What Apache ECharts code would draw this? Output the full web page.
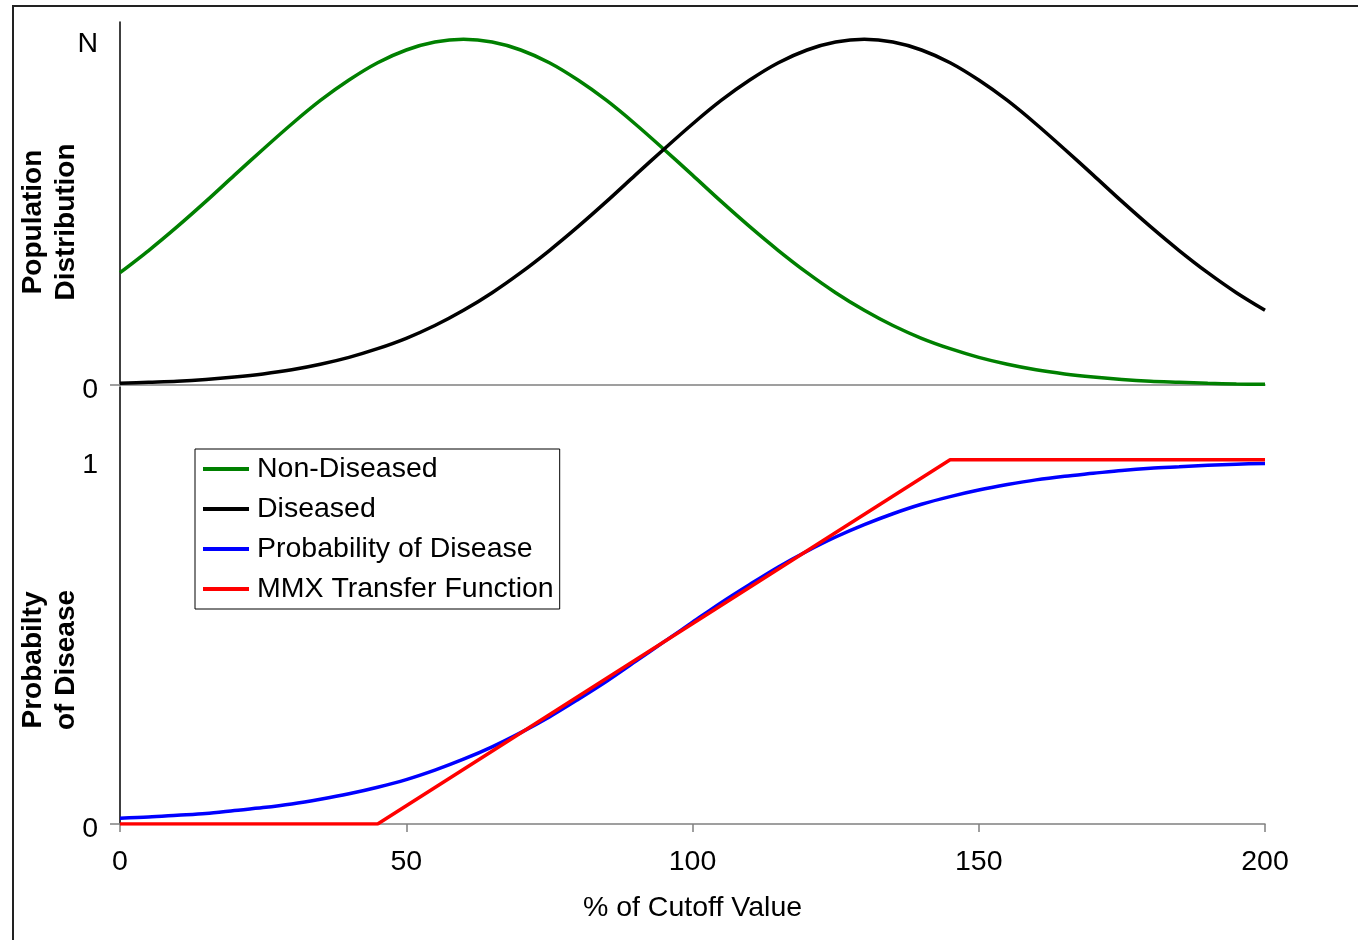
<!DOCTYPE html>
<html>
<head>
<meta charset="utf-8">
<script src="https://cdn.jsdelivr.net/npm/echarts@6/dist/echarts.min.js"></script>
<style>
  html, body { margin: 0; padding: 0; background: #fff; }
  #main { width: 1358px; height: 940px; }
</style>
</head>
<body>
<div id="main"></div>
<script>
// x positions (% of cutoff value)
var xs = [0, 5, 10, 15, 20, 25, 30, 35, 40, 45, 50, 55, 60, 65, 70, 75, 80, 85, 90, 95, 100,
          105, 110, 115, 120, 125, 130, 135, 140, 145, 150, 155, 160, 165, 170, 175, 180, 185, 190, 195, 200];

// population distributions, as fraction of N
var nonDiseased = [0.325, 0.389, 0.458, 0.531, 0.607, 0.682, 0.755, 0.823, 0.882, 0.932, 0.969,
                   0.992, 1, 0.992, 0.969, 0.932, 0.882, 0.823, 0.755, 0.682, 0.607,
                   0.531, 0.458, 0.389, 0.325, 0.267, 0.216, 0.172, 0.135, 0.105, 0.080,
                   0.060, 0.044, 0.032, 0.023, 0.016, 0.011, 0.008, 0.005, 0.003, 0.002];
var diseased = [0.005, 0.008, 0.011, 0.016, 0.023, 0.032, 0.044, 0.060, 0.080, 0.105, 0.135,
                0.172, 0.216, 0.267, 0.325, 0.389, 0.458, 0.531, 0.607, 0.682, 0.755,
                0.823, 0.882, 0.932, 0.969, 0.992, 1, 0.992, 0.969, 0.932, 0.882,
                0.823, 0.755, 0.682, 0.607, 0.531, 0.458, 0.389, 0.325, 0.267, 0.216];

// probability of disease
var probability = [0.016, 0.019, 0.024, 0.029, 0.037, 0.045, 0.055, 0.068, 0.083, 0.101, 0.122,
                   0.148, 0.178, 0.212, 0.251, 0.294, 0.342, 0.392, 0.446, 0.5, 0.554,
                   0.608, 0.658, 0.706, 0.749, 0.788, 0.822, 0.852, 0.878, 0.899, 0.917,
                   0.932, 0.945, 0.955, 0.963, 0.971, 0.977, 0.981, 0.985, 0.988, 0.990];

// MMX transfer function breakpoints
var mmxX = [0, 45, 145, 200];
var mmxY = [0, 0, 1, 1];

function pairs(x, y) {
    return x.map(function (v, i) { return [v, y[i]]; });
}

var FONT = '"Liberation Sans", Arial, sans-serif';
var myChart = echarts.init(document.getElementById('main'));

// y labels sit a few px below their tick, like the original
var yLabelRich = { s: { fontSize: 28.5, color: '#000', fontFamily: FONT, padding: [10, 0, 0, 0] } };

var option = {
    backgroundColor: '#fff',
    animation: false,
    textStyle: { fontFamily: FONT },
    graphic: [
        {
            type: 'rect',
            shape: { x: 13, y: 6, width: 1400, height: 1000 },
            style: { fill: 'none', stroke: '#222', lineWidth: 2 }
        },
        {
            type: 'text', x: 50, y: 222, rotation: Math.PI / 2,
            style: {
                text: 'Population\nDistribution', font: 'bold 28px ' + FONT,
                fill: '#000', align: 'center', verticalAlign: 'middle', lineHeight: 33
            }
        },
        {
            type: 'text', x: 50, y: 660, rotation: Math.PI / 2,
            style: {
                text: 'Probabilty\nof Disease', font: 'bold 28px ' + FONT,
                fill: '#000', align: 'center', verticalAlign: 'middle', lineHeight: 33
            }
        }
    ],
    legend: {
        orient: 'vertical',
        left: 195,
        top: 449,
        padding: [5, 6, 5, 8],
        itemGap: 10,
        itemWidth: 46,
        itemHeight: 4,
        icon: 'rect',
        borderColor: '#000',
        borderWidth: 1,
        backgroundColor: '#fff',
        textStyle: { fontSize: 28.5, color: '#000', fontFamily: FONT, lineHeight: 30, padding: [0, 0, 0, 3] },
        data: ['Non-Diseased', 'Diseased', 'Probability of Disease', 'MMX Transfer Function']
    },
    grid: [
        { left: 120, right: 93, top: 22, height: 363 },
        { left: 120, right: 93, top: 387, height: 437 }
    ],
    xAxis: [
        {
            gridIndex: 0, type: 'value', min: 0, max: 200, interval: 50,
            axisLine: { lineStyle: { color: '#808080', width: 1.5 } },
            axisTick: { show: false },
            axisLabel: { show: false },
            splitLine: { show: false }
        },
        {
            gridIndex: 1, type: 'value', min: 0, max: 200, interval: 50,
            name: '% of Cutoff Value',
            nameLocation: 'middle',
            nameGap: 70,
            nameTextStyle: { fontSize: 28.5, color: '#000', fontFamily: FONT },
            axisLine: { lineStyle: { color: '#808080', width: 1.5 } },
            axisTick: { show: true, length: 8, lineStyle: { color: '#808080', width: 1.5 } },
            axisLabel: { fontSize: 28.5, color: '#000', margin: 24, fontFamily: FONT },
            splitLine: { show: false }
        }
    ],
    yAxis: [
        {
            gridIndex: 0, type: 'value', min: 0, max: 1.05, interval: 1,
            axisLine: { show: true, onZero: false, lineStyle: { color: '#000', width: 1.5 } },
            axisTick: { show: true, length: 10, customValues: [0], lineStyle: { color: '#808080', width: 1.5 } },
            axisLabel: {
                margin: 22, customValues: [0, 1], rich: yLabelRich,
                formatter: function (v) { return v === 0 ? '{s|0}' : (v === 1 ? '{s|N}' : ''); }
            },
            splitLine: { show: false }
        },
        {
            gridIndex: 1, type: 'value', min: 0, max: 1.2, interval: 1,
            axisLine: { show: true, onZero: false, lineStyle: { color: '#000', width: 1.5 } },
            axisTick: { show: true, length: 10, customValues: [0], lineStyle: { color: '#808080', width: 1.5 } },
            axisLabel: {
                margin: 22, customValues: [0, 1], rich: yLabelRich,
                formatter: function (v) { return v === 0 ? '{s|0}' : (v === 1 ? '{s|1}' : ''); }
            },
            splitLine: { show: false }
        }
    ],
    series: [
        {
            name: 'Non-Diseased', type: 'line', xAxisIndex: 0, yAxisIndex: 0,
            data: pairs(xs, nonDiseased), smooth: 0.3, showSymbol: false,
            itemStyle: { color: '#008000' }, lineStyle: { color: '#008000', width: 3.5 }
        },
        {
            name: 'Diseased', type: 'line', xAxisIndex: 0, yAxisIndex: 0,
            data: pairs(xs, diseased), smooth: 0.3, showSymbol: false,
            itemStyle: { color: '#000' }, lineStyle: { color: '#000', width: 3.5 }
        },
        {
            name: 'Probability of Disease', type: 'line', xAxisIndex: 1, yAxisIndex: 1,
            data: pairs(xs, probability), smooth: 0.3, showSymbol: false,
            itemStyle: { color: '#0000ff' }, lineStyle: { color: '#0000ff', width: 3.5 }
        },
        {
            name: 'MMX Transfer Function', type: 'line', xAxisIndex: 1, yAxisIndex: 1,
            data: pairs(mmxX, mmxY), showSymbol: false,
            itemStyle: { color: '#ff0000' }, lineStyle: { color: '#ff0000', width: 3.5 }
        }
    ]
};

myChart.setOption(option);
</script>
</body>
</html>
